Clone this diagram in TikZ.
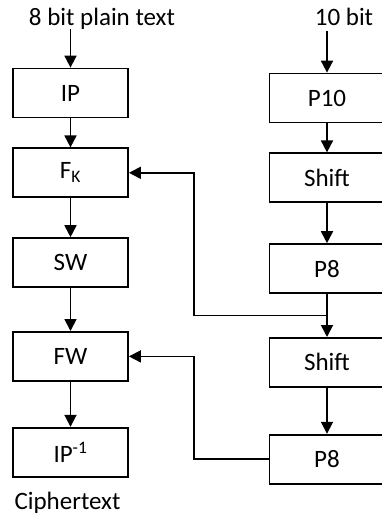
\documentclass[tikz,border=0pt]{standalone}
\usepackage{fontspec}
\setmainfont{Carlito}
\usetikzlibrary{positioning,arrows.meta,calc}

\tikzstyle{block} = [rectangle, minimum width=115pt, minimum height=49pt, inner sep=0pt, text centered, draw=black, line width=1.8pt, font=\fontsize{25}{28}\selectfont]
\tikzstyle{arrow} = [line width=1.8pt,-{Triangle[length=12pt,width=12pt]}]
\tikzstyle{label_text} = [inner sep=0pt, font=\fontsize{25}{28}\selectfont]

\begin{document}
\begin{tikzpicture}[x=1pt,y=-1pt]
        \useasboundingbox (0,0) rectangle (381,515);

        % data path
        \node (ip) [block] at (70.5,93) {IP};
        \node (fk) [block, below=29pt of ip] {F\textsubscript{K}};
        \node (sw) [block, below=39pt of fk] {SW};
        \node (fw) [block, below=43pt of sw] {FW};
        \node (ip_inv) [block, below=45pt of fw] {IP\textsuperscript{-1}};

        % key schedule
        \node (p10) [block] at (327,98) {P10};
        \node (shift_a) [block, below=29pt of p10] {Shift};
        \node (p8_a) [block, below=40pt of shift_a] {P8};
        \node (shift_b) [block, below=43pt of p8_a] {Shift};
        \node (p8_b) [block, below=46pt of shift_b] {P8};

        \node (plain) [label_text, anchor=base] at (102,25) {8 bit plain text};
        \node (key) [label_text, anchor=base] at (344,25) {10 bit};
        \node (cipher) [label_text, anchor=base] at (67.5,509) {Ciphertext};

        \draw [arrow] (plain.south -| ip.north) -- (ip);
        \draw [arrow] (ip) -- (fk);
        \draw [arrow] (fk) -- (sw);
        \draw [arrow] (sw) -- (fw);
        \draw [arrow] (fw) -- (ip_inv);

        \draw [arrow] ([yshift=-6pt]key.south -| p10.north) -- (p10);
        \draw [arrow] (p10) -- (shift_a);
        \draw [arrow] (shift_a) -- (p8_a);
        \draw [arrow] (p8_a) -- (shift_b);
        \draw [arrow] (shift_b) -- (p8_b);

        % subkeys fed back to the rounds
        \coordinate (col) at (194,0);
        \coordinate (tap) at ($(p8_a.south)!0.5!(shift_b.north)$);
        \draw [arrow] (tap) -- (tap -| col) |- (fk.east);
        \draw [arrow] (p8_b.west) -- (p8_b.west -| col) |- (fw.east);
\end{tikzpicture}
\end{document}
